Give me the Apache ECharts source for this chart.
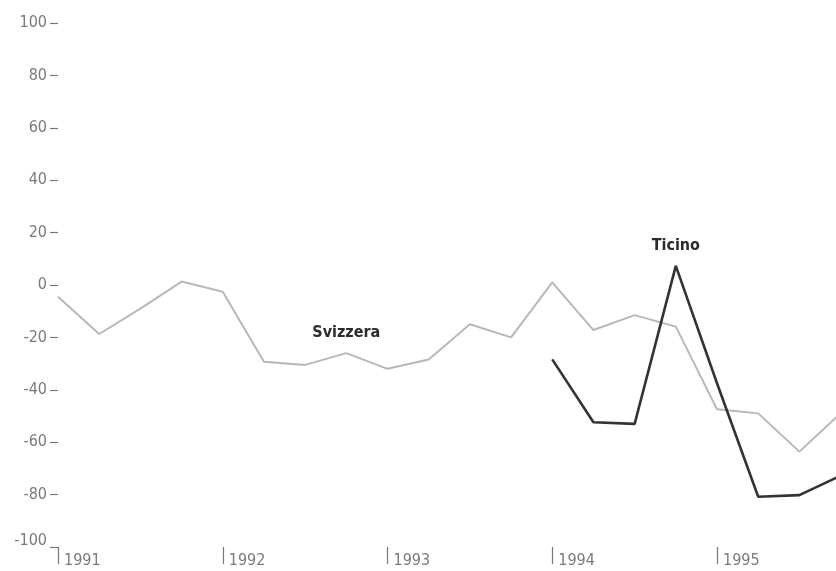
<!DOCTYPE html>
<html>
<head>
<meta charset="utf-8">
<script src="https://cdn.jsdelivr.net/npm/echarts@6/dist/echarts.min.js"></script>
<style>
  html, body { margin: 0; padding: 0; background: #fff; }
  #chart { width: 836px; height: 571px; }
</style>
</head>
<body>
<div id="chart"></div>
<script>
// trimestri 1991-1995
const periodsCH = [
  1991, 1991.25, 1991.5, 1991.75,
  1992, 1992.25, 1992.5, 1992.75,
  1993, 1993.25, 1993.5, 1993.75,
  1994, 1994.25, 1994.5, 1994.75,
  1995, 1995.25, 1995.5, 1995.75
]
const svizzera = [
  -4.5, -18.7, -9, 1.3,
  -2.6, -29.3, -30.5, -26,
  -32, -28.4, -15, -20,
  1, -17.2, -11.5, -15.9,
  -47.4, -49, -63.6, -49
]
const periodsTI = [1994, 1994.25, 1994.5, 1994.75, 1995, 1995.25, 1995.5, 1995.75]
const ticino = [-28.4, -52.4, -53, 7.3, -37.5, -80.8, -80.2, -72.8]

const yTicks = [-100, -80, -60, -40, -20, 0, 20, 40, 60, 80, 100]
const yearLabels = ['1991', '1992', '1993', '1994', '1995']

const FONT = "'Liberation Sans Narrow', 'DejaVu Sans Condensed', 'Arial Narrow', sans-serif"

// etichetta della serie sopra un punto
function seriesData(xs, ys, name, labelIdx) {
  return xs.map((x, i) => {
    const item = { value: [x, ys[i]] }
    if (i === labelIdx) {
      item.label = {
        show: true,
        position: 'top',
        distance: 12,
        formatter: name,
        fontFamily: FONT,
        fontWeight: 'bold',
        fontSize: 16,
        color: '#2b2b2b'
      }
    }
    return item
  })
}

const chart = echarts.init(document.getElementById('chart'), null, { renderer: 'canvas' })

chart.setOption({
  backgroundColor: '#fff',
  animation: false,
  grid: { left: 58, top: 23, width: 823.75, height: 524, containLabel: false, outerBoundsMode: 'none' },
  xAxis: {
    type: 'value',
    min: 1991,
    max: 1996,
    interval: 1,
    axisLine: { show: false, onZero: false },
    axisTick: { show: true, length: 17, lineStyle: { color: '#777', width: 1.2 } },
    splitLine: { show: false },
    axisLabel: {
      align: 'left',
      verticalAlign: 'middle',
      margin: 14,
      padding: [0, 0, 0, 6],
      fontFamily: FONT,
      fontSize: 16,
      color: '#7a7a7a',
      formatter: v => yearLabels[Math.round(v - 1991)] || ''
    }
  },
  yAxis: {
    type: 'value',
    min: -100,
    max: 100,
    interval: 20,
    axisLine: { show: false },
    axisTick: { show: true, length: 8, lineStyle: { color: '#777', width: 1.2 } },
    splitLine: { show: false },
    axisLabel: {
      margin: 11,
      fontFamily: FONT,
      fontSize: 16,
      color: '#7a7a7a',
      formatter: v => yTicks.includes(v) ? (v === -100 ? '{low|-100}' : String(v)) : '',
      rich: { low: { fontFamily: FONT, fontSize: 16, color: '#7a7a7a', padding: [0, 0, 12, 0] } }
    }
  },
  series: [
    {
      name: 'Svizzera',
      type: 'line',
      data: seriesData(periodsCH, svizzera, 'Svizzera', 7),
      symbol: 'circle',
      symbolSize: 0,
      showSymbol: true,
      itemStyle: { color: '#b8b8b8' },
      lineStyle: { color: '#b8b8b8', width: 2 },
      z: 2
    },
    {
      name: 'Ticino',
      type: 'line',
      data: seriesData(periodsTI, ticino, 'Ticino', 3),
      symbol: 'circle',
      symbolSize: 0,
      showSymbol: true,
      itemStyle: { color: '#333' },
      lineStyle: { color: '#333', width: 2.6 },
      z: 3
    }
  ]
})
</script>
</body>
</html>
